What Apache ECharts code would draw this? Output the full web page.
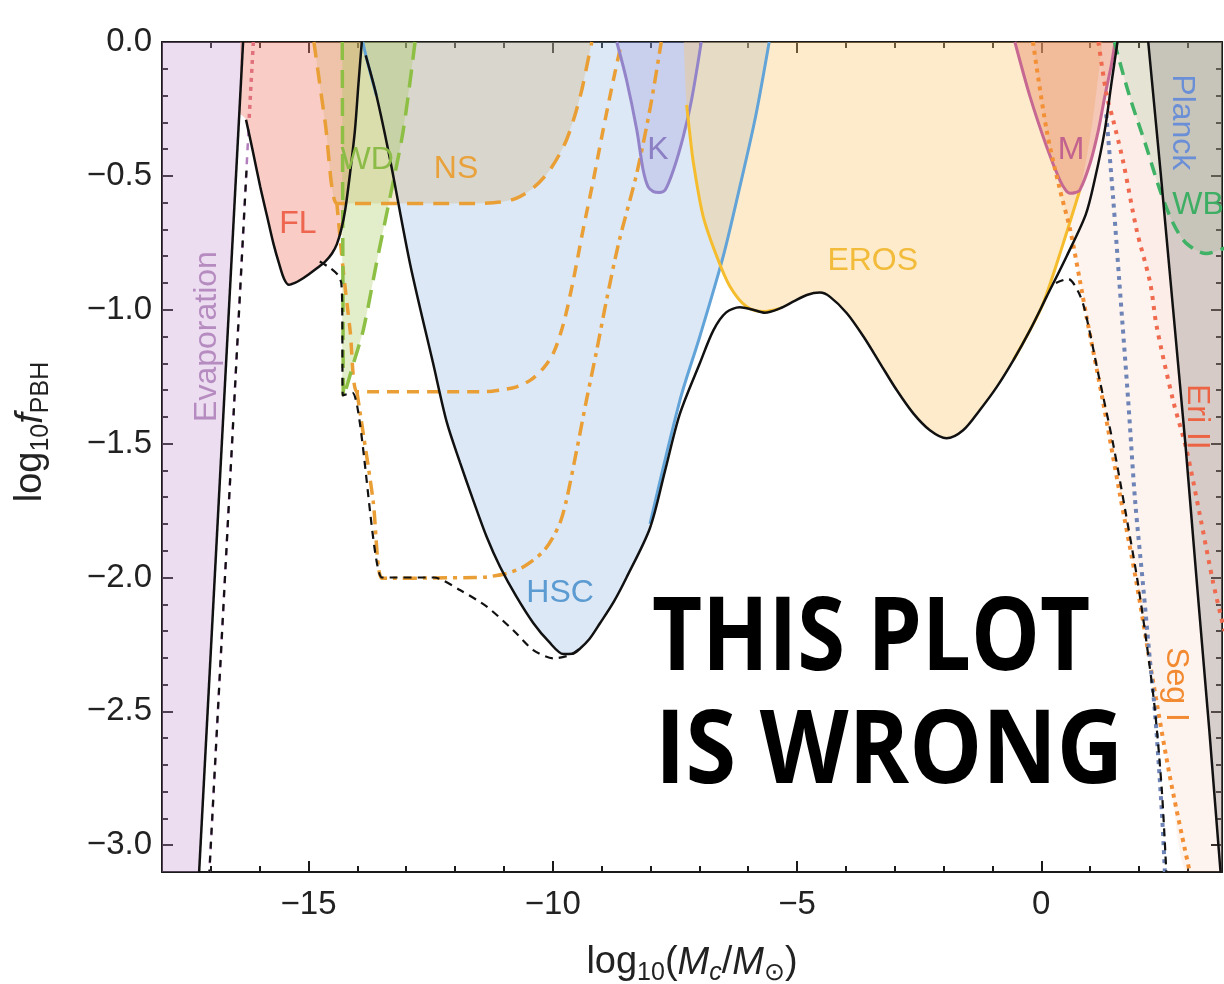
<!DOCTYPE html>
<html>
<head>
<meta charset="utf-8">
<script src="https://cdn.jsdelivr.net/npm/echarts@6/dist/echarts.min.js"></script>
<style>
  html, body { margin: 0; padding: 0; background: #fff; }
  #chart { width: 1224px; height: 984px; }
</style>
</head>
<body>
<div id="chart"></div>
<script>
// Axis ticks
const xMajorTicks = [-15, -10, -5, 0];
const xMinorTicks = [-17, -16, -14, -13, -12, -11, -9, -8, -7, -6, -4, -3, -2, -1, 1, 2, 3];
const yMajorTicks = [0, -0.5, -1, -1.5, -2, -2.5, -3];
const yMinorTicks = [-0.1, -0.2, -0.3, -0.4, -0.6, -0.7, -0.8, -0.9, -1.1, -1.2, -1.3, -1.4,
  -1.6, -1.7, -1.8, -1.9, -2.1, -2.2, -2.3, -2.4, -2.6, -2.7, -2.8, -2.9];

// Constraint boundaries: [log10(Mc/Msun), log10 fPBH]
const evaporationLine = [[-16.34, 0], [-17.24, -3.1]];
const evaporationFill = [[-18, -3.1], [-17.24, -3.1], [-16.34, 0]];
const evaporationAlt = [[-16.22, -0.30], [-17.03, -3.1]];
const flTopDotted = [[-16.13, 0], [-16.22, -0.30]];
const flCurve = [[-16.28, -0.29], [-16.15, -0.40], [-15.99, -0.54], [-15.85, -0.65], [-15.72, -0.752],
  [-15.60, -0.83], [-15.50, -0.885], [-15.40, -0.907], [-15.28, -0.90], [-15.17, -0.889], [-15.00, -0.868],
  [-14.83, -0.845], [-14.66, -0.82], [-14.52, -0.79], [-14.42, -0.755], [-14.33, -0.70], [-14.25, -0.628],
  [-14.15, -0.49], [-14.05, -0.329], [-13.98, -0.16], [-13.91, 0]];
const wdLeft = [[-14.31, 0], [-14.29, -1.33]];
const wdRight = [[-12.82, 0], [-13.06, -0.329], [-13.33, -0.578], [-13.61, -0.827], [-13.88, -1.076],
  [-14.08, -1.2], [-14.27, -1.32]];
const nsUpper = [[-14.89, 0], [-14.66, -0.30], [-14.42, -0.603], [-14.2, -0.603], [-11.6, -0.603],
  [-11.08, -0.598], [-10.74, -0.583], [-10.40, -0.545], [-10.06, -0.478], [-9.72, -0.366], [-9.44, -0.204],
  [-9.27, -0.06], [-9.20, 0]];
const nsMiddle = [[-14.42, -0.603], [-14.29, -0.852], [-14.15, -1.076], [-14.01, -1.306], [-13.8, -1.306],
  [-11.4, -1.306], [-11.08, -1.30], [-10.74, -1.288], [-10.45, -1.262], [-10.20, -1.22], [-9.99, -1.163],
  [-9.78, -1.051], [-9.58, -0.889], [-9.38, -0.702], [-9.17, -0.516], [-8.97, -0.329], [-8.76, -0.142],
  [-8.59, 0]];
const nsLower = [[-14.01, -1.306], [-13.88, -1.462], [-13.68, -1.711], [-13.50, -2.003], [-13.3, -2.003],
  [-11.6, -2.0], [-11.35, -1.998], [-10.95, -1.985], [-10.65, -1.965], [-10.40, -1.935], [-10.18, -1.90],
  [-9.99, -1.848], [-9.84, -1.79], [-9.72, -1.711], [-9.51, -1.524], [-9.31, -1.337], [-9.10, -1.151],
  [-8.90, -0.964], [-8.65, -0.75], [-8.28, -0.49], [-8.0, -0.24], [-7.78, 0]];
const hscCurve = [[-13.89, 0], [-13.80, -0.07], [-13.61, -0.20], [-13.33, -0.44], [-12.92, -0.83],
  [-12.45, -1.20], [-12.17, -1.42], [-11.90, -1.57], [-11.63, -1.711], [-11.35, -1.85], [-11.08, -1.96],
  [-10.75, -2.07], [-10.40, -2.17], [-10.08, -2.24], [-9.78, -2.286], [-9.60, -2.285], [-9.44, -2.265],
  [-9.25, -2.23], [-9.03, -2.17], [-8.75, -2.09], [-8.49, -2.0], [-8.01, -1.80], [-7.40, -1.34],
  [-6.99, -1.10], [-6.51, -0.80], [-6.17, -0.54], [-5.85, -0.28], [-5.57, 0]];
const kCurve = [[-8.69, 0], [-8.49, -0.142], [-8.28, -0.329], [-8.15, -0.478], [-8.05, -0.54],
  [-7.94, -0.559], [-7.82, -0.562], [-7.70, -0.553], [-7.53, -0.478], [-7.33, -0.354], [-7.16, -0.217],
  [-6.96, 0]];
const erosCurve = [[-7.32, 0], [-7.26, -0.235], [-7.19, -0.35], [-7.12, -0.453], [-6.92, -0.652],
  [-6.64, -0.802], [-6.37, -0.914], [-6.03, -0.989], [-5.69, -1.007], [-5.35, -0.995], [-5.08, -0.97],
  [-4.80, -0.945], [-4.53, -0.936], [-4.33, -0.951], [-3.98, -1.013], [-3.64, -1.10], [-3.30, -1.20],
  [-2.96, -1.30], [-2.62, -1.387], [-2.28, -1.45], [-1.94, -1.48], [-1.60, -1.45], [-1.26, -1.375],
  [-0.91, -1.288], [-0.57, -1.188], [-0.23, -1.076], [0.04, -0.976], [0.45, -0.752], [0.79, -0.553],
  [1.05, -0.30], [1.25, 0]];
const mCurve = [[-0.54, 0], [-0.23, -0.204], [0.11, -0.391], [0.38, -0.516], [0.50, -0.553],
  [0.59, -0.565], [0.70, -0.562], [0.79, -0.553], [1.00, -0.453], [1.17, -0.329], [1.30, -0.204],
  [1.44, -0.08], [1.51, 0]];
const segICurve = [[-0.17, 0], [0.11, -0.33], [0.38, -0.55], [0.59, -0.70], [0.79, -0.89], [0.93, -1.03],
  [1.25, -1.33], [1.60, -1.68], [1.95, -2.02], [2.30, -2.40], [2.65, -2.76], [3.04, -3.1]];
const eriIICurve = [[1.17, 0], [1.34, -0.20], [1.47, -0.29], [1.68, -0.45], [1.95, -0.70], [2.23, -0.90],
  [2.36, -1.06], [2.70, -1.34], [2.97, -1.52], [3.25, -1.77], [3.52, -2.02], [3.75, -2.2]];
const blueDotted = [[1.33, -0.27], [1.47, -0.58], [1.60, -0.90], [1.78, -1.34], [1.92, -1.71],
  [2.09, -2.04], [2.22, -2.30], [2.33, -2.51], [2.47, -2.88], [2.53, -3.1]];
const wbCurve = [[1.50, 0], [1.54, -0.03], [1.81, -0.204], [2.15, -0.391], [2.43, -0.553], [2.70, -0.677],
  [2.97, -0.752], [3.38, -0.79], [3.75, -0.77]];
const planckLine = [[2.19, 0], [2.45, -0.5], [2.70, -1.0], [2.95, -1.5], [3.19, -2.03], [3.44, -2.57],
  [3.67, -3.1]];

// Combined bounds
const combinedSolid = [[-13.83, -0.05], [-13.61, -0.20], [-13.33, -0.44], [-12.92, -0.83], [-12.45, -1.20],
  [-12.17, -1.42], [-11.90, -1.57], [-11.63, -1.711], [-11.35, -1.85], [-11.08, -1.96], [-10.75, -2.07],
  [-10.40, -2.17], [-10.08, -2.24], [-9.78, -2.286], [-9.60, -2.285], [-9.44, -2.265], [-9.25, -2.23],
  [-9.03, -2.17], [-8.75, -2.09], [-8.49, -2.0], [-8.01, -1.815], [-7.70, -1.60], [-7.40, -1.39],
  [-6.99, -1.20], [-6.71, -1.076], [-6.45, -1.01], [-6.17, -0.991], [-5.9, -1.0], [-5.66, -1.011],
  [-5.35, -0.995], [-5.08, -0.97], [-4.80, -0.945], [-4.53, -0.936], [-4.33, -0.951], [-3.98, -1.013],
  [-3.64, -1.10], [-3.30, -1.20], [-2.96, -1.30], [-2.62, -1.387], [-2.28, -1.45], [-1.94, -1.48],
  [-1.60, -1.45], [-1.26, -1.375], [-0.91, -1.288], [-0.57, -1.188], [-0.23, -1.076], [0.11, -0.951],
  [0.52, -0.80], [0.91, -0.645], [1.10, -0.51], [1.30, -0.33], [1.44, -0.15], [1.56, 0]];
const combinedDashLeft = [[-16.27, -0.48], [-17.03, -3.1]];
const combinedDashMid = [[-14.77, -0.82], [-14.55, -0.845], [-14.40, -0.87], [-14.33, -0.90], [-14.31, -1.0],
  [-14.30, -1.32], [-14.10, -1.31], [-13.50, -2.0], [-13.3, -2.0], [-12.44, -2.0], [-11.90, -2.047],
  [-11.35, -2.109], [-10.81, -2.197], [-10.40, -2.271], [-9.99, -2.302], [-9.65, -2.29], [-9.44, -2.265]];
const combinedDashRight = [[0.30, -0.90], [0.55, -0.885], [0.75, -0.93], [0.89, -1.0], [1.18, -1.25],
  [1.47, -1.5], [1.72, -1.75], [1.96, -2.0], [2.16, -2.25], [2.33, -2.5], [2.47, -2.8], [2.56, -3.1]];

// Region names: text, x, y, colour, rotation (deg)
const regionLabels = [
  ['Evaporation', -17.08, -1.10, '#b68cc0', 90],
  ['FL', -15.22, -0.68, '#ee6650', 0],
  ['WD', -13.80, -0.44, '#8cbb48', 0],
  ['NS', -11.98, -0.474, '#e9a23b', 0],
  ['K', -7.85, -0.403, '#8c7fc4', 0],
  ['HSC', -9.85, -2.06, '#5b9bd1', 0],
  ['EROS', -3.45, -0.818, '#f2bb3a', 0],
  ['M', 0.61, -0.403, '#c2628e', 0],
  ['Planck', 2.88, -0.30, '#6b8fd6', -90],
  ['WB', 3.21, -0.61, '#3dae64', 0],
  ['Eri II', 3.19, -1.40, '#ec6444', -90],
  ['Seg I', 2.76, -2.40, '#f28a32', -90]
];

const chart = echarts.init(document.getElementById('chart'));

function fillSeries(data, color, smooth) {
  return {
    type: 'line', data: data, smooth: smooth, symbol: 'none', silent: true, z: 1,
    lineStyle: { width: 0, opacity: 0 },
    areaStyle: { color: color, origin: 'end', opacity: 1 }
  };
}
function lineSeries(data, color, width, dash, smooth, z, dashOffset) {
  return {
    type: 'line', data: data, smooth: smooth, symbol: 'none', silent: true, z: z,
    lineStyle: { color: color, width: width, type: dash, dashOffset: dashOffset || 0, cap: 'butt' }
  };
}

const wdFill = [[-14.31, -1.33]].concat(wdRight.slice().reverse());
const flFill = [[-16.40, -0.27]].concat(flCurve);

const series = [
  fillSeries(evaporationFill, 'rgba(196,150,212,0.32)', 0),
  fillSeries(flFill, 'rgba(240,130,110,0.40)', 0.3),
  fillSeries(hscCurve, 'rgba(140,180,225,0.30)', 0.3),
  fillSeries(nsUpper, 'rgba(212,170,95,0.27)', 0.3),
  fillSeries(wdFill, 'rgba(160,200,80,0.30)', 0.3),
  fillSeries(kCurve, 'rgba(130,125,205,0.22)', 0.3),
  fillSeries(erosCurve, 'rgba(250,200,110,0.36)', 0.3),
  fillSeries(segICurve.concat([[3.9, -3.1]]), 'rgba(240,170,140,0.14)', 0.3),
  fillSeries(eriIICurve, 'rgba(240,150,130,0.06)', 0.3),
  fillSeries(mCurve, 'rgba(230,130,90,0.38)', 0.3),
  fillSeries(wbCurve, 'rgba(110,180,110,0.16)', 0.3),
  fillSeries(planckLine.concat([[3.9, -3.1]]), 'rgba(140,135,135,0.33)', 0),

  lineSeries(nsUpper, '#e99f35', 3.5, [16, 10], 0.3, 3),
  lineSeries(nsMiddle, '#e99f35', 3.5, [12, 8], 0.3, 3),
  lineSeries(nsLower, '#e99f35', 3.5, [14, 6, 4, 6], 0.3, 3),
  lineSeries(wdLeft, '#8ebf45', 3.5, [18, 10], 0, 3),
  lineSeries(wdRight, '#8ebf45', 3.5, [18, 10], 0.3, 3),
  lineSeries(hscCurve.slice(0, 3), '#62a3d8', 3, 'solid', 0.3, 3),
  lineSeries(hscCurve.slice(21), '#62a3d8', 3, 'solid', 0.3, 3),
  lineSeries(kCurve, '#9384c9', 3, 'solid', 0.3, 3),
  lineSeries(erosCurve.slice(1, 10), '#f5bd2d', 3, 'solid', 0.3, 3),
  lineSeries(erosCurve.slice(24, 29), '#f5bd2d', 3, 'solid', 0.3, 3),
  lineSeries(mCurve, '#c66892', 3, 'solid', 0.3, 3),
  lineSeries(flTopDotted, '#e0707c', 3.5, [4, 5], 0, 3),
  lineSeries(evaporationAlt, '#b27ebd', 2.5, [7, 7], 0, 3, 7),
  lineSeries(segICurve, '#f39035', 4, [4, 5], 0.3, 3),
  lineSeries(eriIICurve, '#ef6a4e', 4, [4, 6], 0.3, 3),
  lineSeries(blueDotted, '#6e84b6', 4, [4, 5], 0.3, 3),
  lineSeries(wbCurve, '#3fb266', 3.5, [13, 8], 0.3, 3),

  lineSeries(evaporationLine, '#111', 2.5, 'solid', 0, 5),
  lineSeries(flCurve, '#111', 2.5, 'solid', 0.3, 5),
  lineSeries(combinedSolid, '#111', 2.5, 'solid', 0.3, 5),
  lineSeries(planckLine, '#111', 2.5, 'solid', 0, 5),
  lineSeries(combinedDashLeft, '#111', 2.2, [7, 7], 0, 5),
  lineSeries(combinedDashMid, '#111', 2.2, [8, 6], 0.25, 5),
  lineSeries(combinedDashRight, '#111', 2.2, [8, 6], 0.3, 5),

  {
    type: 'custom', silent: true, clip: false, z: 10,
    data: regionLabels.map(function (l) { return [l[1], l[2]]; }),
    renderItem: function (params, api) {
      const l = regionLabels[params.dataIndex];
      const p = api.coord([api.value(0), api.value(1)]);
      return {
        type: 'text', x: p[0], y: p[1], rotation: l[4] * Math.PI / 180,
        style: {
          text: l[0], fill: l[3], fontSize: 32, fontFamily: 'Liberation Sans',
          align: 'center', verticalAlign: 'middle', textAlign: 'center', textVerticalAlign: 'middle'
        }
      };
    }
  }
];

const axisColor = '#1a1a1a';
const fmtX = function (v) { return v === 0 ? '0' : (v < 0 ? '\u2212' + Math.abs(v) : String(v)); };
const fmtY = function (v) { return v === 0 ? '0.0' : '\u2212' + Math.abs(v).toFixed(1); };
const labelFont = { fontFamily: 'Liberation Sans', fontSize: 33, color: '#222' };
const titleRich = {
  n: { fontFamily: 'Liberation Sans', fontSize: 38, color: '#222', lineHeight: 46 },
  i: { fontFamily: 'Liberation Sans', fontSize: 38, fontStyle: 'italic', color: '#222', lineHeight: 46 },
  s: { fontFamily: 'Liberation Sans', fontSize: 25, color: '#222', lineHeight: 24, verticalAlign: 'bottom' },
  si: { fontFamily: 'Liberation Sans', fontSize: 25, fontStyle: 'italic', color: '#222', lineHeight: 24, verticalAlign: 'bottom' }
};

function xAxisDef(position, ticks, len, showLine, labels, extra) {
  return Object.assign({
    type: 'value', min: -18, max: 3.7, position: position,
    axisLine: { show: showLine, onZero: false, lineStyle: { color: axisColor, width: 2 } },
    axisTick: { show: true, inside: true, length: len, customValues: ticks, lineStyle: { color: axisColor, width: 2 } },
    axisLabel: labels ? Object.assign({ show: true, customValues: ticks, formatter: fmtX, margin: 16 }, labelFont) : { show: false },
    splitLine: { show: false }
  }, extra || {});
}
function yAxisDef(position, ticks, len, showLine, labels, extra) {
  return Object.assign({
    type: 'value', min: -3.1, max: 0, position: position,
    axisLine: { show: showLine, onZero: false, lineStyle: { color: axisColor, width: 2 } },
    axisTick: { show: true, inside: true, length: len, customValues: ticks, lineStyle: { color: axisColor, width: 2 } },
    axisLabel: labels ? Object.assign({ show: true, customValues: ticks, formatter: fmtY, margin: 10 }, labelFont) : { show: false },
    splitLine: { show: false }
  }, extra || {});
}

chart.setOption({
  animation: false,
  backgroundColor: '#fff',
  grid: { left: 162, right: 2, top: 42, bottom: 112, containLabel: false, outerBoundsMode: 'none' },
  xAxis: [
    xAxisDef('bottom', xMajorTicks, 11, true, true, {
      name: '{n|log}{s|10}{n|(}{i|M}{si|c}{n|/}{i|M}{s|\u2299}{n|)}',
      nameLocation: 'middle', nameGap: 68, nameTextStyle: { rich: titleRich }
    }),
    xAxisDef('bottom', xMinorTicks, 6, false, false),
    xAxisDef('top', xMajorTicks, 11, true, false),
    xAxisDef('top', xMinorTicks, 6, false, false)
  ],
  yAxis: [
    yAxisDef('left', yMajorTicks, 11, true, true, {
      name: '{n|log}{s|10}{i|f}{s|PBH}',
      nameLocation: 'middle', nameGap: 108,
      nameTextStyle: { rich: titleRich, padding: [0, 0, 0, 50] }
    }),
    yAxisDef('left', yMinorTicks, 6, false, false),
    yAxisDef('right', yMajorTicks, 11, true, false),
    yAxisDef('right', yMinorTicks, 6, false, false)
  ],
  series: series,
  graphic: [
    {
      type: 'text', x: 652, y: 641, scaleX: 0.85, z: 100,
      style: { text: 'THIS PLOT', fill: '#000', fontSize: 102, fontWeight: 'bold', fontFamily: 'Open Sans',
        align: 'left', verticalAlign: 'middle', textAlign: 'left', textVerticalAlign: 'middle' }
    },
    {
      type: 'text', x: 655, y: 754, scaleX: 0.90, z: 100,
      style: { text: 'IS WRONG', fill: '#000', fontSize: 102, fontWeight: 'bold', fontFamily: 'Open Sans',
        align: 'left', verticalAlign: 'middle', textAlign: 'left', textVerticalAlign: 'middle' }
    }
  ]
});
</script>
</body>
</html>
